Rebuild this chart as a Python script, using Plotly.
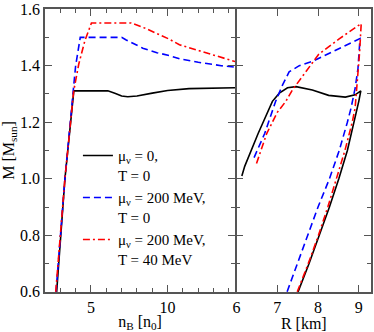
import plotly.graph_objects as go

# ---- Left panel: M vs n_B ----
nb_black = [2.76, 3.3, 3.88, 6.1, 6.6, 7.0, 7.4, 8.0, 9.0, 10.0, 11.4, 12.5, 14.5]
m_black_nb = [0.6, 1.0, 1.311, 1.311, 1.302, 1.293, 1.290, 1.293, 1.303, 1.312, 1.319, 1.321, 1.322]

nb_blue = [2.72, 3.3, 3.84, 4.0, 4.3, 7.0, 7.3, 8.38, 9.3, 10.1, 10.8, 12.0, 13.5, 14.5]
m_blue_nb = [0.6, 1.0, 1.31, 1.4, 1.5, 1.5, 1.491, 1.462, 1.446, 1.436, 1.424, 1.412, 1.400, 1.394]

nb_red = [2.70, 3.3, 3.87, 4.2, 4.6, 5.03, 7.63, 8.6, 10.1, 10.77, 12.06, 14.5]
m_red_nb = [0.6, 1.0, 1.31, 1.405, 1.488, 1.551, 1.551, 1.531, 1.494, 1.474, 1.453, 1.413]

# ---- Right panel: M vs R ----
r_black = [6.13, 6.2, 6.53, 6.73, 6.88, 7.05, 7.25, 7.46, 7.86, 8.26, 8.67, 8.91, 9.05,
           9.0, 8.88, 8.72, 8.51, 8.28, 8.03, 7.78, 7.51]
m_black_r = [1.01, 1.044, 1.16, 1.229, 1.274, 1.303, 1.322, 1.326, 1.314, 1.295, 1.289, 1.297, 1.311,
             1.274, 1.2, 1.1, 1.0, 0.9, 0.8, 0.7, 0.6]

r_blue = [6.43, 6.69, 6.96, 7.13, 7.29, 7.54, 7.86, 8.51, 9.03,
          8.98, 8.91, 8.81, 8.72, 8.52, 8.28, 8.0, 7.75, 7.5, 7.24]
m_blue_r = [1.075, 1.16, 1.274, 1.332, 1.378, 1.40, 1.415, 1.459, 1.496,
            1.389, 1.32, 1.25, 1.2, 1.1, 1.0, 0.9, 0.8, 0.7, 0.6]

r_red = [6.49, 6.74, 7.0, 7.21, 7.37, 7.70, 8.02, 8.51, 9.06,
         9.02, 8.95, 8.91, 8.84, 8.66, 8.45, 8.24, 8.01, 7.76, 7.49]
m_red_r = [1.054, 1.16, 1.235, 1.274, 1.314, 1.378, 1.441, 1.494, 1.549,
           1.447, 1.332, 1.25, 1.2, 1.1, 1.0, 0.9, 0.8, 0.7, 0.6]

y_ticks = [0.6, 0.8, 1.0, 1.2, 1.4, 1.6]
y_ticktext = ["0.6", "0.8", "1.0", "1.2", "1.4", "1.6"]

names = ["μ<sub>ν</sub> = 0,<br>T = 0",
         "μ<sub>ν</sub> = 200 MeV,<br>T = 0",
         "μ<sub>ν</sub> = 200 MeV,<br>T = 40 MeV"]

FONT = "Liberation Serif"
black_line = dict(color="#000000", width=1.6)
blue_line = dict(color="#0000ff", width=1.6, dash="7px,4px")
red_line = dict(color="#ff0000", width=1.6, dash="7px,3px,2px,3px")

fig = go.Figure()
fig.add_trace(go.Scatter(x=nb_black, y=m_black_nb, mode="lines", line=black_line,
                         name=names[0], xaxis="x", yaxis="y"))
fig.add_trace(go.Scatter(x=nb_blue, y=m_blue_nb, mode="lines", line=blue_line,
                         name=names[1], xaxis="x", yaxis="y"))
fig.add_trace(go.Scatter(x=nb_red, y=m_red_nb, mode="lines", line=red_line,
                         name=names[2], xaxis="x", yaxis="y"))
fig.add_trace(go.Scatter(x=r_black, y=m_black_r, mode="lines", line=black_line,
                         showlegend=False, xaxis="x2", yaxis="y2"))
fig.add_trace(go.Scatter(x=r_blue, y=m_blue_r, mode="lines", line=blue_line,
                         showlegend=False, xaxis="x2", yaxis="y2"))
fig.add_trace(go.Scatter(x=r_red, y=m_red_r, mode="lines", line=red_line,
                         showlegend=False, xaxis="x2", yaxis="y2"))

LW = 1.5
axis_common = dict(showline=True, linecolor="#555555", linewidth=LW, mirror="allticks",
                   ticks="inside", ticklen=7, tickwidth=1.2, tickcolor="#555555",
                   showgrid=False, zeroline=False, ticklabeloverflow="allow",
                   tickfont=dict(family=FONT, size=16, color="#000000"))

plot_w = 374 - 45 - 1
split = 0.583
split2 = split + LW / plot_w
YR = [0.5995, 1.6005]
fig.update_layout(
    width=374, height=332,
    margin=dict(l=45, r=1, t=6, b=37),
    paper_bgcolor="white", plot_bgcolor="white",
    font=dict(family=FONT, size=16, color="#000000"),
    xaxis=dict(domain=[0, split], range=[2, 14.4], tickvals=[5, 10],
               minor=dict(dtick=1, tick0=0, ticks="inside", ticklen=4, tickcolor="#555555"),
               title=dict(text="n<sub>B</sub> [n<sub>0</sub>]", font=dict(size=16), standoff=4),
               anchor="y", **axis_common),
    xaxis2=dict(domain=[split2, 1], range=[6, 9.3], tickvals=[6, 7, 8, 9],
                title=dict(text="R [km]", font=dict(size=16), standoff=4),
                anchor="y2", **axis_common),
    yaxis=dict(domain=[0, 1], range=YR, tickvals=y_ticks, ticktext=y_ticktext,
               minor=dict(dtick=0.1, tick0=0, ticks="inside", ticklen=4, tickcolor="#555555"),
               title=dict(text="M [M<sub>sun</sub>]", font=dict(size=16), standoff=6),
               anchor="x", **axis_common),
    yaxis2=dict(domain=[0, 1], range=YR, tickvals=y_ticks,
                showticklabels=False,
                minor=dict(dtick=0.1, tick0=0, ticks="inside", ticklen=4, tickcolor="#555555"),
                anchor="x2", **axis_common),
    legend=dict(x=0.101, y=0.54, xanchor="left", yanchor="top",
                bgcolor="rgba(0,0,0,0)", valign="top",
                font=dict(family=FONT, size=15, color="#000000"),
                tracegroupgap=0),
    showlegend=True,
)

fig.write_html("out.html", config={"displayModeBar": False},
               post_script="document.body.style.margin='0';")
